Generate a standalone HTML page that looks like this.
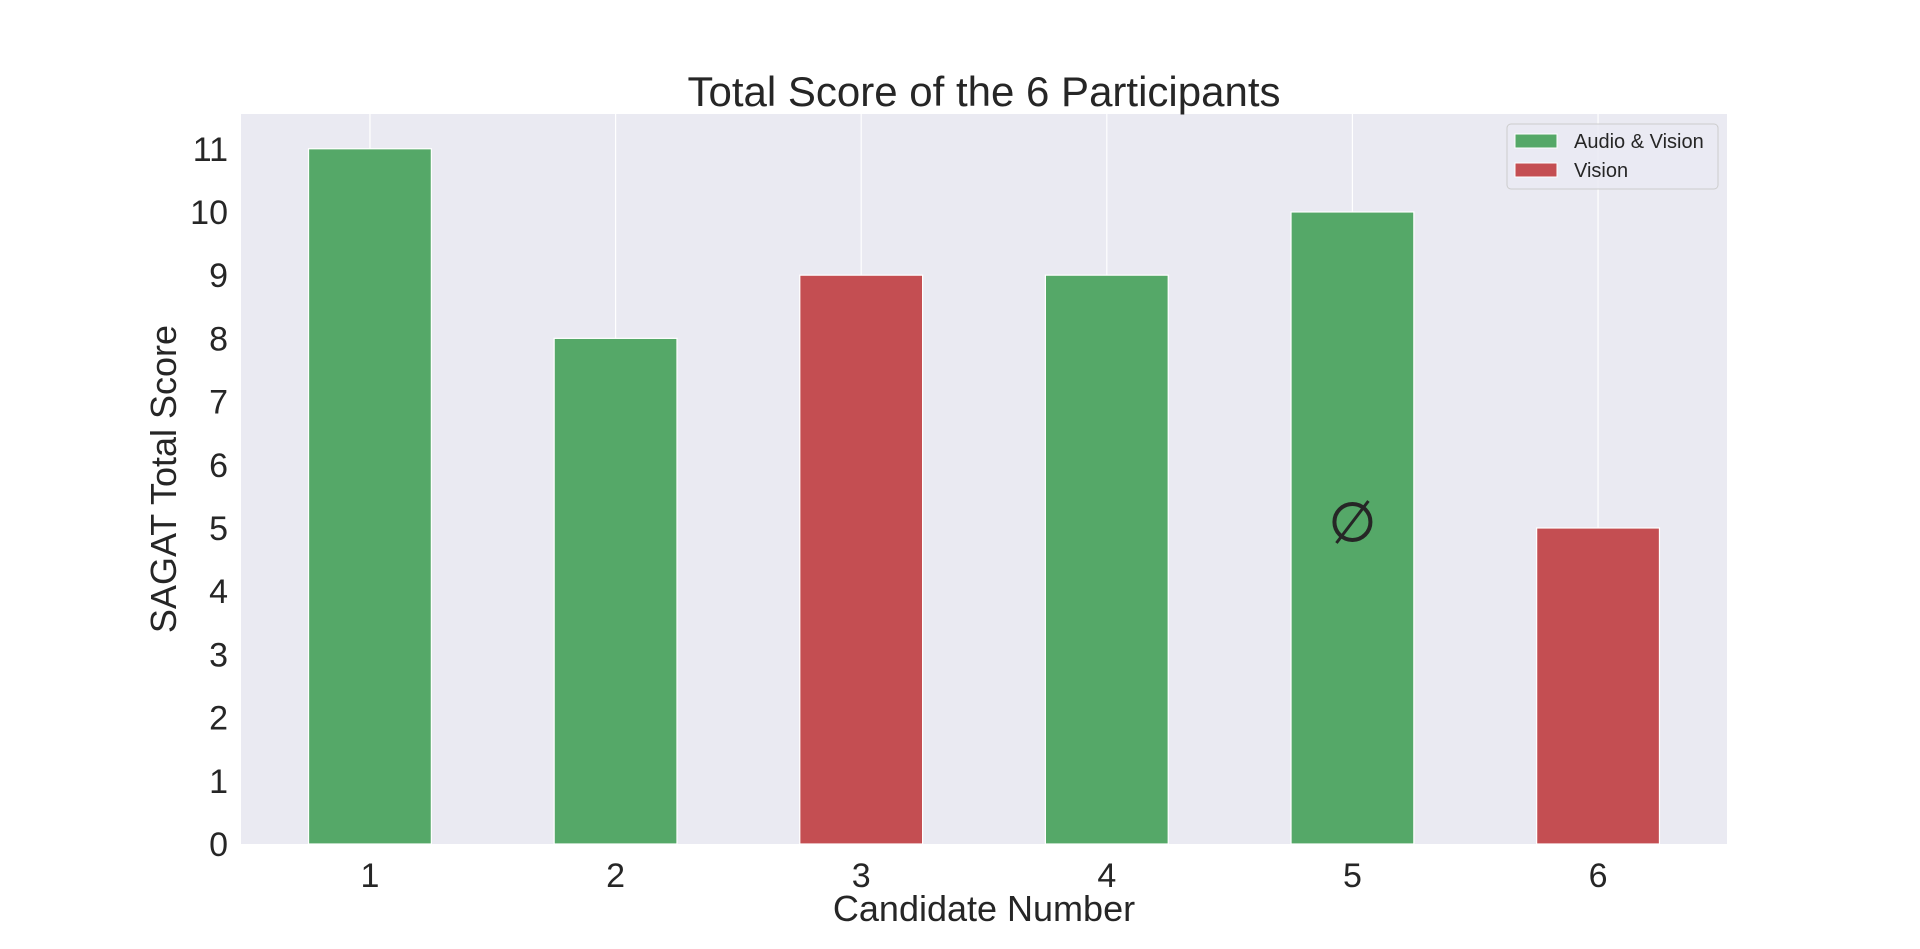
<!DOCTYPE html>
<html><head><meta charset="utf-8"><style>
html,body{margin:0;padding:0;background:#fff;}
svg{display:block;font-family:"Liberation Sans",sans-serif;}
</style></head><body>
<svg id="chart" width="1920" height="949"></svg>
<script>
const categories = ["1","2","3","4","5","6"];
const scores = [11, 8, 9, 9, 10, 5];
const groups = ["Audio & Vision","Audio & Vision","Vision","Audio & Vision","Audio & Vision","Vision"];
const yTicks = [0,1,2,3,4,5,6,7,8,9,10,11];
const legendLabels = ["Audio & Vision","Vision"];
const colors = {"Audio & Vision":"#55a868","Vision":"#c44e52"};

const NS="http://www.w3.org/2000/svg";
const svg=document.getElementById('chart');
const L=241,R=1727,T=114,B=844;
const yMax=11.55;
const x=i=>L+(i+0.525)/6.05*(R-L);
const y=v=>B-v/yMax*(B-T);
function mk(tag,attrs,parent){const e=document.createElementNS(NS,tag);for(const k in attrs)e.setAttribute(k,attrs[k]);(parent||svg).appendChild(e);return e;}

const bg=mk('rect',{x:L,y:T,width:R-L,height:B-T,fill:'#eaeaf2'});



categories.forEach((c,i)=>{
  const g=mk('line',{x1:x(i),x2:x(i),y1:T,y2:B,stroke:'#fff','stroke-width':1.2});
  
  
});

const bw=0.5/6.05*(R-L);
categories.forEach((c,i)=>{
  const r=mk('rect',{x:x(i)-bw/2,y:y(scores[i]),width:bw,height:B-y(scores[i]),fill:colors[groups[i]],stroke:'#fff','stroke-width':1.2});
  
  
  const t=mk('text',{x:x(i),y:B+43,'text-anchor':'middle','font-size':34,fill:'#262626'});
  t.textContent=c;
  
  
});

yTicks.forEach(v=>{
  const t=mk('text',{x:228,y:y(v)+12,'text-anchor':'end','font-size':34,fill:'#262626'});
  t.textContent=v;
  
  
});

const mg=mk('g',{});


const cx=x(4),cy=y(5)-6;
mk('circle',{cx:cx,cy:cy,r:18,fill:'none',stroke:'#262626','stroke-width':4},mg);
mk('line',{x1:cx-16,y1:cy+21,x2:cx+16,y2:cy-21,stroke:'#262626','stroke-width':3},mg);

const title=mk('text',{x:(L+R)/2,y:106,'text-anchor':'middle','font-size':42,fill:'#262626'});
title.textContent='Total Score of the 6 Participants';


const xl=mk('text',{x:(L+R)/2,y:921,'text-anchor':'middle','font-size':36,fill:'#262626'});
xl.textContent='Candidate Number';


const ylx=176;
const yl=mk('text',{x:ylx,y:(T+B)/2,'text-anchor':'middle','font-size':36,fill:'#262626',transform:`rotate(-90 ${ylx} ${(T+B)/2})`});
yl.textContent='SAGAT Total Score';



const lg=mk('g',{});


mk('rect',{x:1507,y:124,width:211,height:65,rx:4,fill:'#eaeaf2','fill-opacity':0.8,stroke:'#cccccc','stroke-width':1},lg);
legendLabels.forEach((lab,i)=>{
  const yy=134+i*29;
  const sw=mk('rect',{x:1515,y:yy,width:42,height:14,fill:colors[lab],stroke:'#fff','stroke-width':1},lg);
  
  
  const t=mk('text',{x:1574,y:yy+14,'font-size':20,fill:'#262626'},lg);
  t.textContent=lab;
  
  
});
</script>
</body></html>
